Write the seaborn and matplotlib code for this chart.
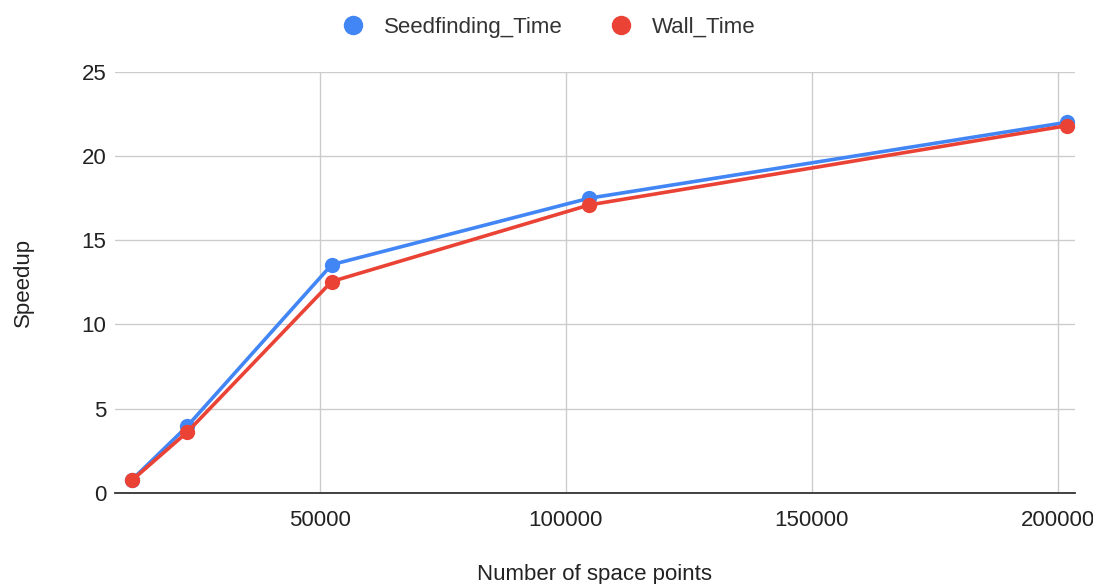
import matplotlib
matplotlib.use("Agg")
import matplotlib.pyplot as plt
import seaborn as sns
import pandas as pd
from matplotlib.lines import Line2D

# Number of space points per event sample
space_points = [11800, 23000, 52400, 104800, 201800]
# Speedup of the seed finding step and of the whole job
seedfinding_speedup = [0.78, 3.95, 13.55, 17.5, 22.0]
wall_speedup = [0.75, 3.6, 12.55, 17.1, 21.8]
series_names = ["Seedfinding_Time", "Wall_Time"]
palette = {"Seedfinding_Time": "#4285F4", "Wall_Time": "#EA4335"}

df = pd.DataFrame({
    "points": space_points * 2,
    "speedup": seedfinding_speedup + wall_speedup,
    "series": [series_names[0]] * len(space_points) + [series_names[1]] * len(space_points),
})

sns.set_theme(style="white")
plt.rcParams["font.family"] = ["Liberation Sans", "DejaVu Sans"]

fig = plt.figure(figsize=(10.93, 5.84), dpi=100)
ax = fig.add_axes([0.105, 0.156, 0.8785, 0.721])

sns.lineplot(data=df, x="points", y="speedup", hue="series", palette=palette,
             marker="o", markersize=11, markeredgewidth=0, linewidth=2.6,
             ax=ax, legend=False, sort=True)

fs = 16
ax.set_xlim(8300, 203500)
ax.set_ylim(0, 25)
ax.set_xticks([50000, 100000, 150000, 200000])
ax.set_yticks([0, 5, 10, 15, 20, 25])
ax.grid(True, color="#cccccc", linewidth=1)
ax.set_axisbelow(True)
for side in ["left", "right", "top"]:
    ax.spines[side].set_visible(False)
ax.spines["bottom"].set_color("#333333")
ax.spines["bottom"].set_linewidth(1.3)
ax.tick_params(axis="both", length=0, labelsize=fs, colors="#222222")
ax.tick_params(axis="x", pad=12)
ax.tick_params(axis="y", pad=6)

ax.set_xlabel("Number of space points", fontsize=fs, color="#222222", labelpad=24)
ax.set_ylabel("Speedup", fontsize=fs, color="#222222", labelpad=34)

handles = [Line2D([0], [0], marker="o", linestyle="none", markersize=14,
                  markerfacecolor=palette[n], markeredgewidth=0) for n in series_names]
fig.legend(handles, series_names, loc="upper center", bbox_to_anchor=(0.497, 1.005),
           ncol=2, frameon=False, fontsize=fs, handletextpad=0.4,
           columnspacing=1.6, labelcolor="#333333")

fig.savefig("out.png", dpi=100, facecolor="white")
